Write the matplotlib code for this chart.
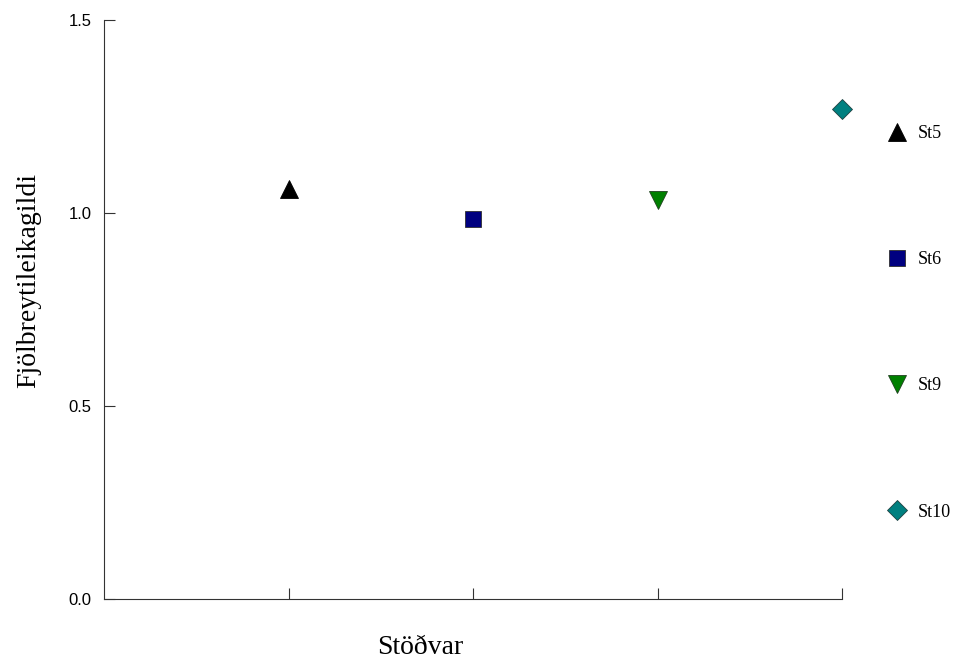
import matplotlib
matplotlib.use("Agg")
import matplotlib.pyplot as plt

# données
stations = ["St5", "St6", "St9", "St10"]
x_pos = [1, 2, 3, 4]
values = [1.062, 0.984, 1.034, 1.269]
markers = ["^", "s", "v", "D"]
colors = ["#000000", "#000080", "#008000", "#008080"]
edges = ["#000000", "#303030", "#204020", "#204040"]
y_ticks = [0.0, 0.5, 1.0, 1.5]

W, H = 958, 667
fig = plt.figure(figsize=(W / 100, H / 100), dpi=100)
ax = fig.add_axes([104 / W, 1 - 599 / H, (842 - 104) / W, (599 - 20) / H])

handles = []
for xp, v, m, c, e, lab in zip(x_pos, values, markers, colors, edges, stations):
    ms = {"s": 12, "D": 10}.get(m, 13)
    h, = ax.plot([xp], [v], linestyle="none", marker=m, markersize=ms,
                 color=c, markeredgecolor=e, markeredgewidth=0.6, label=lab,
                 clip_on=False)
    handles.append(h)

ax.set_xlim(0, 4)
ax.set_ylim(0, 1.5)
ax.set_xticks(x_pos)
ax.set_xticklabels([])
ax.set_yticks(y_ticks)
ax.set_yticklabels([f"{t:.1f}" for t in y_ticks], family="Liberation Sans", fontsize=12)
ax.tick_params(direction="in", length=8, width=0.8, color="#333333", pad=9)
for s in ("top", "right"):
    ax.spines[s].set_visible(False)
for s in ("left", "bottom"):
    ax.spines[s].set_linewidth(0.8)
    ax.spines[s].set_color("#333333")

fig.text(29 / W, 1 - 280 / H, "Fjölbreytileikagildi", rotation=90,
         ha="center", va="center", family="Liberation Serif", fontsize=20)
fig.text(420 / W, 1 - 647 / H, "Stöðvar", ha="center", va="center",
         family="Liberation Serif", fontsize=20)

leg = fig.legend(handles=handles, loc="upper left",
                 bbox_to_anchor=(886 / W, 1 - 125 / H), frameon=False,
                 prop={"family": "Liberation Serif", "size": 13},
                 labelspacing=6.05, handlelength=1.2, handletextpad=0.55,
                 borderpad=0, borderaxespad=0)

fig.savefig("out.png", dpi=100)
